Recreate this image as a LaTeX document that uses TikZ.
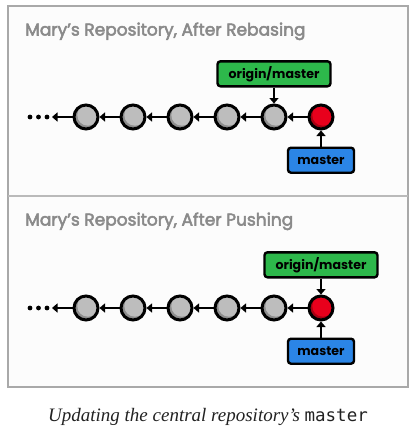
\documentclass[tikz,border=0pt]{standalone}
\usepackage{fontspec}
\setsansfont{Poppins}
\newfontfamily\titlefont[UprightFeatures={FakeBold=3}]{Poppins}
\newfontfamily\capfont{Liberation Serif}
\setmonofont{DejaVu Sans Mono}
\usepackage{xcolor}
\usetikzlibrary{arrows.meta,positioning}

\definecolor{framegray}{HTML}{A9A9A9}
\definecolor{titlegray}{HTML}{8A8A8A}
\definecolor{commitgray}{HTML}{BDBDBD}
\definecolor{commitshade}{HTML}{8E8E8E}
\definecolor{headred}{HTML}{E8001C}
\definecolor{headshade}{HTML}{A80012}
\definecolor{origingreen}{HTML}{2DB84B}
\definecolor{masterblue}{HTML}{2B85E6}

\begin{document}
\begin{tikzpicture}[
    x=1pt, y=-1pt,
    > = {Triangle[length=5.5pt,width=9pt]}, % arrow head style
    node distance=20pt,
    commit/.style={circle, draw, line width=3pt, minimum size=24pt, inner sep=0pt,
        fill=commitgray,
        path picture={
            \fill[commitshade] (path picture bounding box.center) circle (14pt);
            \fill[commitgray] ([shift={(1.8pt,1.8pt)}]path picture bounding box.center) circle (10.5pt);
        }},
    head/.style={commit, fill=headred,
        path picture={
            \fill[headshade] (path picture bounding box.center) circle (14pt);
            \fill[headred] ([shift={(1.8pt,1.8pt)}]path picture bounding box.center) circle (10.5pt);
        }},
    ref/.style={draw, line width=2.4pt, rounded corners=3pt, inner sep=0pt,
        minimum height=25pt, font=\sffamily\bfseries\fontsize{12.6}{14}\selectfont},
    origin/.style={ref, fill=origingreen, minimum width=113pt},
    branch/.style={ref, fill=masterblue, minimum width=66pt},
    title/.style={anchor=base west, inner sep=0pt, text=titlegray,
        font=\titlefont\fontsize{17}{20}\selectfont},
    link/.style={->, line width=2.4pt}
]

\useasboundingbox (0,0) rectangle (416,439);
\fill[white] (0,0) rectangle (416,439);

% Frame
\draw[framegray, line width=1.2pt, fill={rgb,255:red,252;green,252;blue,252}] (8,6) rectangle (408,387);
\draw[framegray!80, line width=2pt] (8,196) -- (408,196);

% After rebasing
\node[title] (rebasetitle) at (25,35.5) {Mary’s Repository, After Rebasing};

\node[commit] (r1) at (86,117) {};
\node[commit] (r2) [right=of r1] {};
\node[commit] (r3) [right=of r2] {};
\node[commit] (r4) [right=of r3] {};
\node[commit] (r5) [right=of r4] {};
\node[head]   (r6) [right=of r5] {};
\node[origin] (rorigin) [above=16pt of r5] {origin/master};
\node[branch] (rmaster) [below=16pt of r6] {master};
\coordinate (rend) at (52,117);

\foreach \x in {30,38.5,47} \fill (\x,117) circle (2.4pt);
\draw[link] (r1) -- (rend);
\draw[link] (r2) -- (r1);
\draw[link] (r3) -- (r2);
\draw[link] (r4) -- (r3);
\draw[link] (r5) -- (r4);
\draw[link] (r6) -- (r5);
\draw[link] (rorigin) -- (r5);
\draw[link] (rmaster) -- (r6);

% After pushing
\node[title] (pushtitle) at (25,225.5) {Mary’s Repository, After Pushing};

\node[commit] (p1) at (86,308) {};
\node[commit] (p2) [right=of p1] {};
\node[commit] (p3) [right=of p2] {};
\node[commit] (p4) [right=of p3] {};
\node[commit] (p5) [right=of p4] {};
\node[head]   (p6) [right=of p5] {};
\node[origin] (porigin) [above=16pt of p6] {origin/master};
\node[branch] (pmaster) [below=16pt of p6] {master};
\coordinate (pend) at (52,308);

\foreach \x in {30,38.5,47} \fill (\x,308) circle (2.4pt);
\draw[link] (p1) -- (pend);
\draw[link] (p2) -- (p1);
\draw[link] (p3) -- (p2);
\draw[link] (p4) -- (p3);
\draw[link] (p5) -- (p4);
\draw[link] (p6) -- (p5);
\draw[link] (porigin) -- (p6);
\draw[link] (pmaster) -- (p6);

% Caption
\node[inner sep=0pt, text={rgb,255:red,34;green,34;blue,34}] (caption) at (208,417)
    {\capfont\itshape\fontsize{19}{22}\selectfont Updating the central repository’s \ttfamily\upshape\fontsize{17.5}{22}\selectfont master};

\end{tikzpicture}
\end{document}
